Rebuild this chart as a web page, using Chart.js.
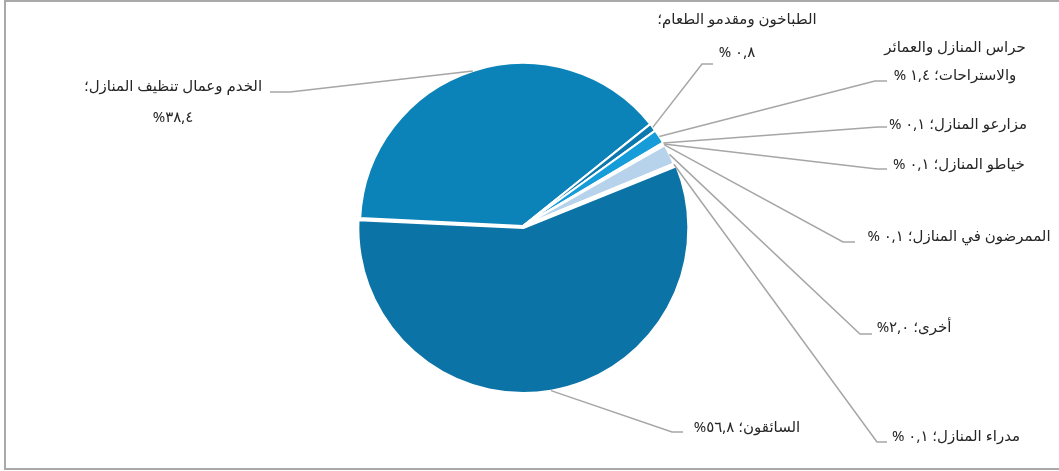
<!DOCTYPE html>
<html lang="ar">
<head>
<meta charset="utf-8">
<script src="https://cdn.jsdelivr.net/npm/chart.js@4.4.1/dist/chart.umd.min.js"></script>
<style>
  html, body { margin: 0; padding: 0; background: #ffffff; }
  #wrap { width: 1059px; height: 471px; position: relative; }
  canvas { display: block; }
</style>
</head>
<body>
<div id="wrap"><canvas id="c" width="1059" height="471"></canvas></div>
<script>
// ---- data ----
const categories = [
  "الخدم وعمال تنظيف المنازل",
  "الطباخون ومقدمو الطعام",
  "حراس المنازل والعمائر والاستراحات",
  "مزارعو المنازل",
  "خياطو المنازل",
  "الممرضون في المنازل",
  "أخرى",
  "مدراء المنازل",
  "السائقون"
];
const values = [38.4, 0.8, 1.4, 0.1, 0.1, 0.1, 2.0, 0.1, 56.8];
const valueLabels = ["٣٨,٤%", "٠,٨ %", "١,٤ %", "٠,١ %", "٠,١ %", "٠,١ %", "٢,٠%", "٠,١ %", "٥٦,٨%"];
const labelLines = [
  ["الخدم وعمال تنظيف المنازل؛", valueLabels[0]],
  ["الطباخون ومقدمو الطعام؛", valueLabels[1]],
  ["حراس المنازل والعمائر", "والاستراحات؛ " + valueLabels[2]],
  ["مزارعو المنازل؛ " + valueLabels[3]],
  ["خياطو المنازل؛ " + valueLabels[4]],
  ["الممرضون في المنازل؛ " + valueLabels[5]],
  ["أخرى؛ " + valueLabels[6]],
  ["مدراء المنازل؛ " + valueLabels[7]],
  ["السائقون؛ " + valueLabels[8]]
];
const colors = ["#0c83b8", "#0b78ae", "#169cd8", "#3a8cc4", "#6fb0de", "#2d7fb5", "#b7d3ec", "#0a6596", "#0b73a5"];
const offsets = [0, 0, 0, 0, 0, 0, 0, 0, 8];

// ---- label layout (text centre x, line y's, elbow point, horizontal end) ----
const labelLayout = [
  { x: 173, ys: [87, 118], elbow: [290, 92], end: [270, 92] },
  { x: 737, ys: [20, 53], elbow: [702, 64], end: [713, 64] },
  { x: 955, ys: [48, 76], elbow: [875, 81], end: [887, 81] },
  { x: 958, ys: [125], elbow: [878, 127], end: [887, 127] },
  { x: 959, ys: [165], elbow: [877, 169], end: [887, 169] },
  { x: 959, ys: [237], elbow: [843, 242], end: [855, 242] },
  { x: 914, ys: [328], elbow: [860, 334], end: [872, 334] },
  { x: 956, ys: [437], elbow: [877, 442], end: [887, 442] },
  { x: 747, ys: [428], elbow: [672, 432], end: [683, 432] }
];

const FONT = '15px "Noto Sans", "DejaVu Sans", sans-serif';

const framePlugin = {
  id: 'frame',
  beforeDraw(chart) {
    const ctx = chart.ctx;
    ctx.save();
    ctx.fillStyle = '#ffffff';
    ctx.fillRect(0, 0, chart.width, chart.height);
    ctx.strokeStyle = '#a9a9a9';
    ctx.lineWidth = 2;
    ctx.strokeRect(5, 1, chart.width + 10, chart.height - 3);
    ctx.restore();
  }
};

const labelPlugin = {
  id: 'outLabels',
  afterDatasetsDraw(chart) {
    const ctx = chart.ctx;
    const meta = chart.getDatasetMeta(0);
    ctx.save();
    meta.data.forEach((arc, i) => {
      const p = arc.getProps(['x', 'y', 'startAngle', 'endAngle', 'outerRadius'], true);
      const mid = (p.startAngle + p.endAngle) / 2;
      const shift = (offsets[i] || 0) / 2;
      const sx = p.x + Math.cos(mid) * (p.outerRadius + shift);
      const sy = p.y + Math.sin(mid) * (p.outerRadius + shift);
      const L = labelLayout[i];
      ctx.strokeStyle = '#a6a6a6';
      ctx.lineWidth = 1.5;
      ctx.beginPath();
      ctx.moveTo(sx, sy);
      ctx.lineTo(L.elbow[0], L.elbow[1]);
      ctx.lineTo(L.end[0], L.end[1]);
      ctx.stroke();
      ctx.fillStyle = '#262626';
      ctx.font = FONT;
      ctx.direction = 'rtl';
      ctx.textAlign = 'center';
      ctx.textBaseline = 'middle';
      labelLines[i].forEach((t, k) => ctx.fillText(t, L.x, L.ys[k]));
    });
    ctx.restore();
  }
};

new Chart(document.getElementById('c'), {
  type: 'pie',
  data: {
    labels: categories,
    datasets: [{
      data: values,
      backgroundColor: colors,
      borderColor: '#ffffff',
      borderWidth: 2,
      offset: offsets
    }]
  },
  options: {
    responsive: false,
    animation: false,
    events: [],
    rotation: 272.8,
    radius: 163,
    layout: { padding: { left: 0, right: 13, top: 0, bottom: 19 } },
    plugins: {
      legend: { display: false },
      tooltip: { enabled: false }
    }
  },
  plugins: [framePlugin, labelPlugin]
});
</script>
</body>
</html>
